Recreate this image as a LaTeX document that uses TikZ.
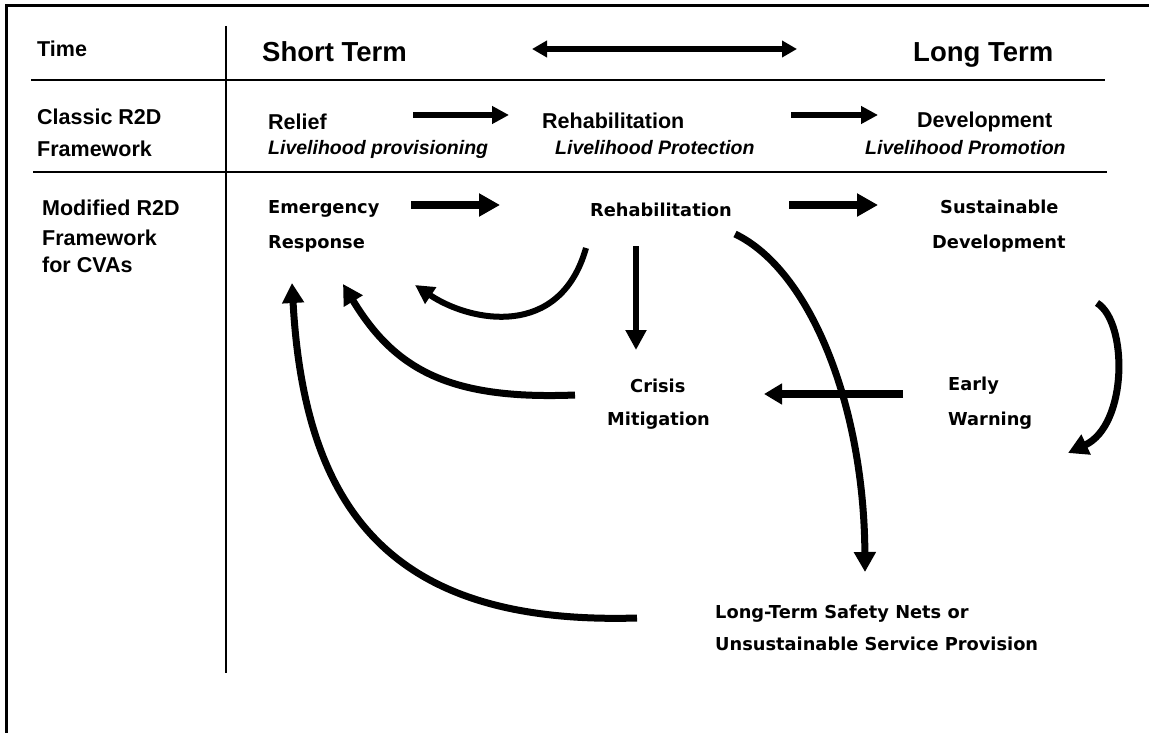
\documentclass[tikz,border=0pt]{standalone}
\usepackage{fontspec}
\setmainfont{Liberation Sans}
\newfontfamily\genfont{DejaVu Sans}
\usetikzlibrary{arrows.meta}

\tikzset{
  rowhead/.style={anchor=base west, inner sep=0pt, font=\bfseries\fontsize{21.5}{24}\selectfont},
  termhead/.style={anchor=base west, inner sep=0pt, font=\bfseries\fontsize{27.5}{30}\selectfont},
  phase/.style={anchor=base west, inner sep=0pt, font=\bfseries\fontsize{21.5}{25}\selectfont},
  phasesub/.style={anchor=base west, inner sep=0pt, font=\bfseries\itshape\fontsize{19.5}{23}\selectfont},
  stage/.style={anchor=base west, inner sep=0pt, font=\genfont\bfseries\fontsize{17.8}{21}\selectfont},
  rule/.style={line width=2.2pt},
  frame/.style={line width=3pt},
  thinarrow/.style={line width=6pt, -{Triangle[length=17pt,width=17pt]}},
  thickarrow/.style={line width=8pt, -{Triangle[length=21pt,width=22pt]}},
  loop/.style={line width=7pt, -{Triangle[length=20pt,width=21pt]}},
  spanarrow/.style={line width=5.5pt, {Triangle[length=15pt,width=16pt]}-{Triangle[length=15pt,width=16pt]}},
}

\begin{document}
\begin{tikzpicture}[x=1pt,y=-1pt]
\useasboundingbox (0,0) rectangle (1149,733);

% outer frame (top and left edges)
\coordinate (fTL) at (6,6);
\coordinate (fTR) at (1149,6);
\coordinate (fBL) at (6,733);
\draw[frame] (fTR) -- (fTL) -- (fBL);

% table rules
\coordinate (vTop) at (226,26);
\coordinate (vBot) at (226,673);
\draw[rule] (vTop) -- (vBot);
\coordinate (h1a) at (31,80);   \coordinate (h1b) at (1105,80);
\coordinate (h2a) at (33,172);  \coordinate (h2b) at (1107,172);
\draw[rule] (h1a) -- (h1b);
\draw[rule] (h2a) -- (h2b);

% row headings
\node[rowhead] (time) at (37,57) {Time};
\node[rowhead] (classic) at (37,125) {Classic R2D};
\node[rowhead] (classicb) at (37,157) {Framework};
\node[rowhead] (modified) at (42,215) {Modified R2D};
\node[rowhead] (modifiedb) at (42,245) {Framework};
\node[rowhead] (modifiedc) at (42,272) {for CVAs};

% time axis
\node[termhead] (short) at (262,62) {Short Term};
\node[termhead] (long) at (913,62) {Long Term};
\coordinate (spanL) at (532,49);
\coordinate (spanR) at (797,49);
\draw[spanarrow] (spanL) -- (spanR);

% classic framework
\node[phase] (relief) at (268,130) {Relief};
\node[phasesub] (reliefsub) at (268,155) {Livelihood provisioning};
\node[phase] (rehab) at (542,129) {Rehabilitation};
\node[phasesub] (rehabsub) at (555,155) {Livelihood Protection};
\node[phase] (dev) at (917,128) {Development};
\node[phasesub] (devsub) at (865,155) {Livelihood Promotion};
\coordinate (c1a) at (413,115); \coordinate (c1b) at (509,115);
\coordinate (c2a) at (791,115); \coordinate (c2b) at (878,115);
\draw[thinarrow] (c1a) -- (c1b);
\draw[thinarrow] (c2a) -- (c2b);

% modified framework
\node[stage] (emerg) at (268,213) {Emergency};
\node[stage] (resp) at (268,248) {Response};
\node[stage] (rehab2) at (590,216) {Rehabilitation};
\node[stage] (sust) at (940,213) {Sustainable};
\node[stage] (sustb) at (932,248) {Development};
\node[stage] (crisis) at (630,392) {Crisis};
\node[stage] (crisisb) at (607,425) {Mitigation};
\node[stage] (early) at (948,390) {Early};
\node[stage] (earlyb) at (948,425) {Warning};
\node[stage] (nets) at (715,618) {Long-Term Safety Nets or};
\node[stage] (netsb) at (715,650) {Unsustainable Service Provision};

\coordinate (m1a) at (411,205); \coordinate (m1b) at (500,205);
\coordinate (m2a) at (789,205); \coordinate (m2b) at (878,205);
\draw[thickarrow] (m1a) -- (m1b);
\draw[thickarrow] (m2a) -- (m2b);

% rehabilitation -> crisis mitigation
\coordinate (dA) at (636,246); \coordinate (dB) at (636,350);
\draw[line width=5.5pt, -{Triangle[length=20pt,width=20pt]}] (dA) -- (dB);

% early warning -> crisis mitigation
\coordinate (eA) at (903,394); \coordinate (eB) at (764,394);
\draw[line width=7.5pt, -{Triangle[length=18pt,width=20pt]}] (eA) -- (eB);

% rehabilitation falls back to emergency response
\coordinate (r1) at (586,248); \coordinate (r2) at (415,285);
\draw[line width=6pt, -{Triangle[length=19pt,width=19pt]}]
  (r1) .. controls (560,340) and (470,322) .. (r2);

% crisis mitigation -> emergency response
\coordinate (k1) at (575,395); \coordinate (k2) at (343,284);
\draw[loop] (k1) .. controls (450,400) and (395,370) .. (k2);

% safety nets -> emergency response
\coordinate (s1) at (637,618); \coordinate (s2) at (292,283);
\draw[loop] (s1) .. controls (400,625) and (305,520) .. (s2);

% rehabilitation -> safety nets
\coordinate (n1) at (735,234); \coordinate (n2) at (865,572);
\draw[loop] (n1) .. controls (810,270) and (864,405) .. (n2);

% sustainable development -> early warning
\coordinate (w1) at (1097,303); \coordinate (w2) at (1068,453);
\draw[loop] (w1) .. controls (1128,322) and (1128,425) .. (w2);
\end{tikzpicture}
\end{document}
